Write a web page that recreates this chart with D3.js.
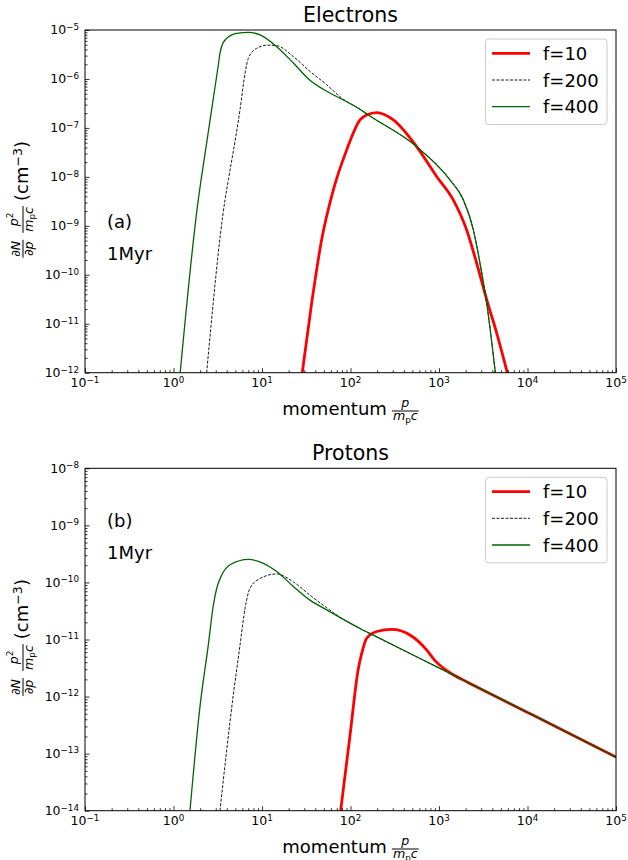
<!DOCTYPE html>
<html><head><meta charset="utf-8">
<script src="https://cdn.jsdelivr.net/npm/d3@7"></script>
<style>
body{margin:0;background:#fff}
svg{display:block}
text{font-family:"DejaVu Sans",sans-serif;fill:#000}
</style>
</head><body>
<svg id="chart" width="628" height="860"></svg>
<script>
// ---------------- data ----------------
const seriesNames = ["f=10", "f=200", "f=400"];
const xTickExps = [-1, 0, 1, 2, 3, 4, 5];
const eYTickExps = [-12, -11, -10, -9, -8, -7, -6, -5];
const pYTickExps = [-14, -13, -12, -11, -10, -9, -8];

// Electrons
const eF10_p = [28.5, 36.4, 47.2, 64.0, 90.6, 128, 152, 198, 305, 558, 940, 1449, 2051, 2661, 3459, 4487, 5916];
const eF10_v = [1e-12, 2.63e-11, 5.18e-10, 5.43e-9, 3.56e-8, 1.46e-7, 1.84e-7, 2.06e-7, 1.46e-7, 4.16e-8, 1.02e-8, 3.39e-9, 8.3e-10, 1.74e-10, 3.09e-11, 6.46e-12, 1e-12];
const eF200_p = [2.37, 3.82, 4.17, 5.64, 6.43, 7.01, 8.71, 11.5, 14.66, 22.6, 34.8, 53.8, 79.4, 128, 159, 558, 1330, 1884, 2443, 2904, 3459, 4330];
const eF200_v = [1e-12, 3.39e-9, 8.7e-9, 2.34e-7, 1.31e-6, 2.64e-6, 4.23e-6, 4.9e-6, 4.79e-6, 2.86e-6, 1.43e-6, 7.6e-7, 4.07e-7, 2.40e-7, 1.84e-7, 4.16e-8, 8.69e-9, 3.39e-9, 8.3e-10, 1.74e-10, 2.63e-11, 1e-12];
const eF400_p = [1.19, 1.905, 2.05, 3.21, 3.35, 3.82, 5.18, 7.01, 9.48, 14.66, 22.6, 34.8, 53.8, 83.0, 128, 159, 558, 1330, 1884, 2443, 2904, 3459, 4330];
const eF400_v = [1e-12, 3.4e-9, 8.7e-9, 1.93e-6, 3.34e-6, 6.25e-6, 8.55e-6, 8.95e-6, 7.94e-6, 4.57e-6, 2.12e-6, 9.4e-7, 5.6e-7, 3.72e-7, 2.40e-7, 1.84e-7, 4.16e-8, 8.69e-9, 3.39e-9, 8.3e-10, 1.74e-10, 2.63e-11, 1e-12];

// Protons
const pF10_p = [77.4, 98.6, 122, 134, 152, 198, 292, 470, 724, 900, 1119, 1500, 2051, 11640, 100000];
const pF10_v = [1e-14, 2.04e-13, 2.95e-12, 5.75e-12, 1.05e-11, 1.38e-11, 1.51e-11, 1.2e-11, 6.6e-12, 4.27e-12, 3.16e-12, 2.34e-12, 1.82e-12, 4.7e-13, 8.7e-14];
const pF200_p = [3.35, 4.74, 5.64, 6.43, 7.31, 9.48, 14.66, 22.6, 34.8, 53.8, 83, 128, 181, 863, 2051, 11640, 100000];
const pF200_v = [1e-14, 1.07e-12, 7.9e-12, 3.5e-11, 7.9e-11, 1.17e-10, 1.41e-10, 1.02e-10, 6.0e-11, 3.6e-11, 2.25e-11, 1.56e-11, 1.19e-11, 3.55e-12, 1.82e-12, 4.7e-13, 8.7e-14];
const pF400_p = [1.535, 1.99, 2.47, 2.82, 3.08, 3.51, 4.35, 7.01, 10.35, 14.66, 22.6, 34.8, 53.8, 83, 128, 181, 863, 2051, 11640, 100000];
const pF400_v = [1e-14, 6.6e-13, 7.9e-12, 3.98e-11, 7.9e-11, 1.35e-10, 2.04e-10, 2.54e-10, 2.16e-10, 1.55e-10, 8.5e-11, 4.9e-11, 3.31e-11, 2.25e-11, 1.56e-11, 1.19e-11, 3.55e-12, 1.82e-12, 4.7e-13, 8.7e-14];

// ---------------- styles ----------------
const styles = [
  {color: "#ff0000", w: 2.8, dash: null},
  {color: "#000000", w: 0.9, dash: "3,1.5"},
  {color: "#006400", w: 1.3, dash: null}
];

const svg = d3.select("#chart");
const defs = svg.append("defs");
const X0 = 85, X1 = 616;

function rich(parent, x, y, parts, fs, anchor) {
  const t = parent.append("text").attr("x", x).attr("y", y)
    .attr("font-size", fs).attr("text-anchor", anchor || "start");
  let cur = 0;
  parts.forEach(p => {
    let size = fs, shift = 0;
    if (p.sup) { size = fs * 0.7; shift = -fs * 0.36; }
    if (p.sub) { size = fs * 0.7; shift = fs * 0.2; }
    const s = t.append("tspan").text(p.t).attr("font-size", size).attr("dy", shift - cur);
    cur = shift;
    if (p.it) s.attr("font-style", "italic");
  });
  return t;
}

function fraction(parent, x, axisY, num, den, fs, numOff, denOff) {
  const n = rich(parent, 0, axisY - numOff, num, fs, "middle");
  const d = rich(parent, 0, axisY + denOff, den, fs, "middle");
  const w = Math.max(n.node().getComputedTextLength(), d.node().getComputedTextLength()) + 2;
  n.attr("x", x + w / 2); d.attr("x", x + w / 2);
  parent.append("line").attr("x1", x).attr("x2", x + w).attr("y1", axisY).attr("y2", axisY)
    .attr("stroke", "#000").attr("stroke-width", 1);
  return w;
}

function sciLabel(parent, x, y, e, anchor) {
  const s = e < 0 ? "\u2212" + Math.abs(e) : String(e);
  rich(parent, x, y, [{t: "10"}, {t: s, sup: true}], 12.5, anchor);
}

function yLabel(parent, cx, cy) {
  const g = parent.append("g");
  const inner = g.append("g");
  let pos = 0;
  const w1 = fraction(inner, pos, -5, [{t: "\u2202N", it: true}], [{t: "\u2202p", it: true}], 12.6, 3, 10);
  pos += w1 + 7;
  const w2 = fraction(inner, pos, -5,
    [{t: "p", it: true}, {t: "2", sup: true}],
    [{t: "m", it: true}, {t: "p", sub: true}, {t: "c", it: true}], 12.6, 5, 9.5);
  pos += w2 + 5;
  const t = rich(inner, pos, 0, [{t: "(cm"}, {t: "\u22123", sup: true}, {t: ")"}], 18);
  pos += t.node().getComputedTextLength();
  inner.attr("transform", `translate(${-pos / 2},0)`);
  g.attr("transform", `translate(${cx},${cy}) rotate(-90)`);
}

function xLabel(parent, cx, baseY) {
  const g = parent.append("g");
  const t = rich(g, 0, baseY, [{t: "momentum"}], 18);
  let pos = t.node().getComputedTextLength() + 5;
  const w = fraction(g, pos, baseY - 4, [{t: "p", it: true}],
    [{t: "m", it: true}, {t: "p", sub: true}, {t: "c", it: true}], 12.6, 4.5, 9);
  pos += w;
  g.attr("transform", `translate(${cx - pos / 2},0)`);
}

function panel(opt) {
  const g = svg.append("g");
  const yExps = opt.yExps;
  const x = d3.scaleLog().domain([10 ** xTickExps[0], 10 ** xTickExps[xTickExps.length - 1]]).range([X0, X1]);
  const y = d3.scaleLog().domain([10 ** yExps[0], 10 ** yExps[yExps.length - 1]]).range([opt.bottom, opt.top]);

  defs.append("clipPath").attr("id", "clip" + opt.key).append("rect")
    .attr("x", X0).attr("y", opt.top).attr("width", X1 - X0).attr("height", opt.bottom - opt.top);

  const line = d3.line().x(d => x(d[0])).y(d => y(d[1])).curve(d3.curveMonotoneX);
  const plot = g.append("g").attr("clip-path", `url(#clip${opt.key})`);
  opt.series.forEach((s, i) => {
    const st = styles[i];
    plot.append("path").datum(d3.zip(s[0], s[1])).attr("d", line)
      .attr("fill", "none").attr("stroke", st.color).attr("stroke-width", st.w)
      .attr("stroke-dasharray", st.dash).attr("stroke-linejoin", "round");
  });

  // ticks
  const xMajor = xTickExps.map(e => 10 ** e);
  const xMinor = [];
  for (let i = 0; i < xTickExps.length - 1; i++) for (let k = 2; k <= 9; k++) xMinor.push(k * 10 ** xTickExps[i]);
  const yMajor = yExps.map(e => 10 ** e);
  const yMinor = [];
  for (let i = 0; i < yExps.length - 1; i++) for (let k = 2; k <= 9; k++) yMinor.push(k * 10 ** yExps[i]);

  const ax = g.append("g").attr("transform", `translate(0,${opt.bottom})`);
  ax.call(d3.axisBottom(x).tickValues(xMajor).tickSizeInner(-4.5).tickSizeOuter(0).tickFormat(() => ""));
  ax.append("g").call(d3.axisBottom(x).tickValues(xMinor).tickSizeInner(-2.5).tickSizeOuter(0).tickFormat(() => ""));
  ax.selectAll(".domain").remove();
  ax.selectAll("text").remove();
  ax.selectAll("line").attr("stroke-width", 0.8);

  const ay = g.append("g").attr("transform", `translate(${X0},0)`);
  ay.call(d3.axisLeft(y).tickValues(yMajor).tickSizeInner(-4.5).tickSizeOuter(0).tickFormat(() => ""));
  ay.append("g").call(d3.axisLeft(y).tickValues(yMinor).tickSizeInner(-2.5).tickSizeOuter(0).tickFormat(() => ""));
  ay.selectAll(".domain").remove();
  ay.selectAll("text").remove();
  ay.selectAll("line").attr("stroke-width", 0.8);

  xTickExps.forEach(e => sciLabel(g, x(10 ** e), opt.bottom + 14.3, e, "middle"));
  yExps.forEach(e => sciLabel(g, X0 - 6, y(10 ** e) + 4.3, e, "end"));

  // frame
  g.append("rect").attr("x", X0).attr("y", opt.top).attr("width", X1 - X0).attr("height", opt.bottom - opt.top)
    .attr("fill", "none").attr("stroke", "#000").attr("stroke-width", 1);

  // title
  g.append("text").attr("x", (X0 + X1) / 2).attr("y", opt.top - 8.3).attr("text-anchor", "middle")
    .attr("font-size", 20.5).text(opt.title);

  // tags
  g.append("text").attr("x", 107).attr("y", opt.tagY[0]).attr("font-size", 18).text(opt.tag);
  g.append("text").attr("x", 107).attr("y", opt.tagY[1]).attr("font-size", 18).text("1Myr");

  // legend
  const lg = g.append("g");
  lg.append("rect").attr("x", 485.5).attr("y", opt.top + 9).attr("width", 121.5).attr("height", 85.5)
    .attr("rx", 3).attr("fill", "#fff").attr("fill-opacity", 0.8).attr("stroke", "#cccccc").attr("stroke-width", 1);
  seriesNames.forEach((n, i) => {
    const ly = opt.top + 23.3 + i * 26.7;
    const st = styles[i];
    lg.append("line").attr("x1", 492).attr("x2", 530).attr("y1", ly).attr("y2", ly)
      .attr("stroke", st.color).attr("stroke-width", st.w).attr("stroke-dasharray", st.dash);
    lg.append("text").attr("x", 543).attr("y", ly + 6.5).attr("font-size", 18).text(n);
  });

  yLabel(g, 28, (opt.top + opt.bottom) / 2 - 2);
  xLabel(g, (X0 + X1) / 2, opt.bottom + 42.3);
}

panel({
  key: "e", top: 30, bottom: 372.7, yExps: eYTickExps, title: "Electrons", tag: "(a)", tagY: [227.5, 260],
  series: [[eF10_p, eF10_v], [eF200_p, eF200_v], [eF400_p, eF400_v]]
});
panel({
  key: "p", top: 468.3, bottom: 810.7, yExps: pYTickExps, title: "Protons", tag: "(b)", tagY: [526.5, 559.3],
  series: [[pF10_p, pF10_v], [pF200_p, pF200_v], [pF400_p, pF400_v]]
});
</script>
</body></html>
